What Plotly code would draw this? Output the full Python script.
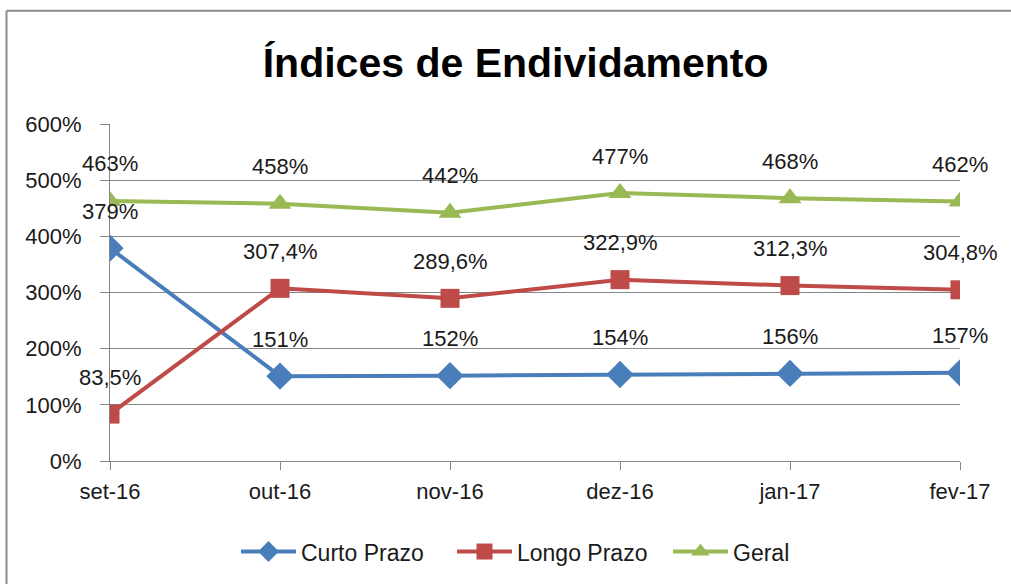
import plotly.graph_objects as go

categories = ["set-16", "out-16", "nov-16", "dez-16", "jan-17", "fev-17"]
curto_prazo = [379, 151, 152, 154, 156, 157]
longo_prazo = [83.5, 307.4, 289.6, 322.9, 312.3, 304.8]
geral = [463, 458, 442, 477, 468, 462]
curto_labels = ["379%", "151%", "152%", "154%", "156%", "157%"]
longo_labels = ["83,5%", "307,4%", "289,6%", "322,9%", "312,3%", "304,8%"]
geral_labels = ["463%", "458%", "442%", "477%", "468%", "462%"]
y_ticks = [0, 100, 200, 300, 400, 500, 600]
y_tick_text = ["0%", "100%", "200%", "300%", "400%", "500%", "600%"]

FONT = "Liberation Sans, Arial, sans-serif"
TXT = "#1a1a1a"
FS = 22

series = [
    ("Curto Prazo", curto_prazo, curto_labels, "#4A7EBB", "diamond", 21),
    ("Longo Prazo", longo_prazo, longo_labels, "#BE4B48", "square", 19),
    ("Geral", geral, geral_labels, "#98B954", "triangle-up", 20),
]

fig = go.Figure()
annotations = []
for name, vals, labels, color, sym, size in series:
    fig.add_trace(go.Scatter(
        x=categories, y=vals, name=name, mode="lines+markers",
        line=dict(color=color, width=4),
        marker=dict(symbol=sym, size=size, color=color, line=dict(width=0)),
    ))
    for c, v, t in zip(categories, vals, labels):
        annotations.append(dict(x=c, y=v, text=t, showarrow=False, yshift=37,
                                font=dict(family=FONT, size=FS, color=TXT)))

x_left = (6.5 - 110) / 850
y_top = (462 - 10.5) / 338
frame = dict(color="#8c8c8c", width=2)

fig.update_layout(
    width=1011, height=584,
    margin=dict(l=110, r=51, t=124, b=122),
    paper_bgcolor="white", plot_bgcolor="white",
    font=dict(family=FONT, size=FS, color=TXT),
    title=dict(text="<b>Índices de Endividamento</b>", x=0.51, xanchor="center",
               y=1 - 63 / 584, yanchor="middle",
               font=dict(family=FONT, size=41, color="black")),
    xaxis=dict(type="category", range=[0, 5], showgrid=False, showline=True,
               linecolor="#868686", linewidth=1, ticks="outside", ticklen=8,
               tickcolor="#868686", tickfont=dict(size=FS, color=TXT),
               ticklabelstandoff=3, zeroline=False),
    yaxis=dict(range=[0, 600], tickmode="array", tickvals=y_ticks, ticktext=y_tick_text,
               showgrid=True, gridcolor="#868686", gridwidth=1,
               showline=True, linecolor="#868686", linewidth=1,
               ticks="outside", ticklen=9, tickcolor="#868686",
               tickfont=dict(size=FS, color=TXT), ticklabelstandoff=14,
               zeroline=False),
    legend=dict(orientation="h", x=(236 - 110) / 850, xanchor="left", y=-0.265, yanchor="middle",
                font=dict(size=23, color=TXT), itemwidth=55, entrywidth=146,
                entrywidthmode="pixels", bgcolor="rgba(0,0,0,0)"),
    annotations=annotations,
    shapes=[
        dict(type="line", xref="paper", yref="paper", x0=x_left, x1=1.2,
             y0=y_top, y1=y_top, line=frame, layer="below"),
        dict(type="line", xref="paper", yref="paper", x0=x_left, x1=x_left,
             y0=-0.5, y1=y_top, line=frame, layer="below"),
    ],
)

fig.write_html("out.html", config={"displayModeBar": False},
               post_script="document.body.style.margin='0';document.body.style.overflow='hidden';")
